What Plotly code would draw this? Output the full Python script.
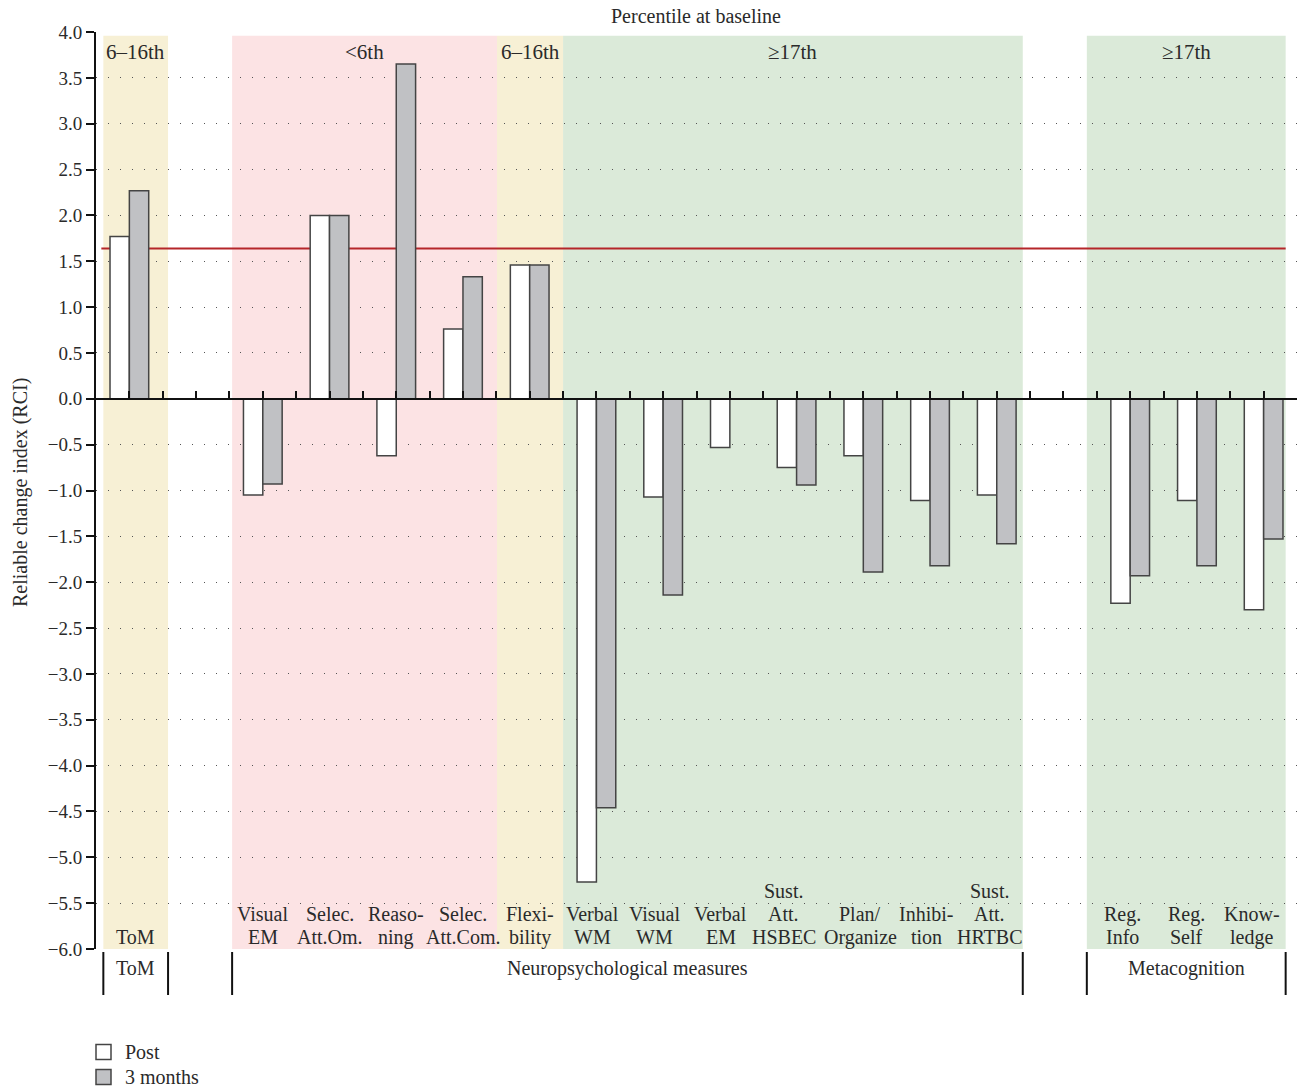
import plotly.graph_objects as go

# ---------------- data ----------------
categories = ["ToM", "", "Visual<br>EM", "Selec.<br>Att.Om.", "Reaso-<br>ning", "Selec.<br>Att.Com.",
              "Flexi-<br>bility", "Verbal<br>WM", "Visual<br>WM", "Verbal<br>EM", "Sust.<br>Att.<br>HSBEC",
              "Plan/<br>Organize", "Inhibi-<br>tion", "Sust.<br>Att.<br>HRTBC", " ",
              "Reg.<br>Info", "Reg.<br>Self", "Know-<br>ledge"]
post = [1.77, None, -1.05, 2.0, -0.62, 0.76, 1.46, -5.27, -1.07, -0.53, -0.75, -0.62, -1.11, -1.05,
        None, -2.23, -1.11, -2.30]
months3 = [2.27, None, -0.93, 2.0, 3.65, 1.33, 1.46, -4.46, -2.14, None, -0.94, -1.89, -1.82, -1.58,
           None, -1.93, -1.82, -1.53]
threshold = 1.64
percentile_bands = ["6–16th", "<6th", "6–16th", "≥17th", "≥17th"]
domain_groups = ["ToM", "", "Neuropsychological measures", "", "Metacognition"]
series_names = ["Post", "3 months"]

# ---------------- layout constants ----------------
W, H = 1299, 1089
ML, MR, MT, MB = 96, 2, 32, 140
PW = W - ML - MR
PH = H - MT - MB
N = len(categories)
FONT = "Liberation Serif"
TXT = "#2a2a2a"
SERIES_COLORS = ["#ffffff", "#c0c1c4"]
EDGE = "#444"

band_edges = [(-0.39, 0.58), (1.54, 5.51), (5.51, 6.5), (6.5, 13.39), (14.35, 17.33)]
band_colors = ["#f7f0d5", "#fce3e4", "#f7f0d5", "#dbead9", "#dbead9"]
group_edges = [(-0.39, 0.58), (0.58, 1.54), (1.54, 13.39), (13.39, 14.35), (14.35, 17.33)]
label_shift = [6, 0, 0, 0, 0, 0, 0, -4, -9, -9, -13, -3, -4, -7, 0, -8, -10, -12]
LINE_H = 23


def xp(u):
    return (u + 0.5) / N


def px_x(p):
    return (p - ML) / PW


def px_y(p):
    return (MT + PH - p) / PH


xs = list(range(N))
fig = go.Figure()
for name, vals, col in zip(series_names, [post, months3], SERIES_COLORS):
    fig.add_trace(go.Bar(x=xs, y=vals, name=name,
                         marker=dict(color=col, line=dict(color=EDGE, width=1.5))))

shapes = []
for (a, b), c in zip(band_edges, band_colors):
    shapes.append(dict(type="rect", xref="x", yref="y", x0=a, x1=b, y0=-6, y1=3.96,
                       fillcolor=c, line=dict(width=0), layer="below"))
shapes.append(dict(type="line", xref="x", yref="y", x0=-0.42, x1=17.33, y0=threshold, y1=threshold,
                   line=dict(color="#b5262a", width=2), layer="between"))
vlines = sorted(set([e for pair in group_edges for e in pair]))
for v in vlines:
    shapes.append(dict(type="line", xref="paper", yref="paper", x0=xp(v), x1=xp(v),
                       y0=-3 / PH, y1=-46 / PH, line=dict(color="#111", width=2)))

ann = []
ann.append(dict(text="Percentile at baseline", xref="paper", yref="paper", x=px_x(696),
                y=px_y(16), xanchor="center", yanchor="middle", showarrow=False,
                font=dict(size=20, color=TXT, family=FONT)))
ann.append(dict(text="Reliable change index (RCI)", xref="paper", yref="paper", x=px_x(20),
                y=px_y(492), xanchor="center", yanchor="middle", showarrow=False, textangle=-90,
                font=dict(size=20, color=TXT, family=FONT)))
for (a, b), t in zip(band_edges, percentile_bands):
    ann.append(dict(text=t, xref="x", yref="y", x=(a + b) / 2, y=3.78, showarrow=False,
                    xanchor="center", yanchor="middle", font=dict(size=21, color=TXT, family=FONT)))
for i, t in enumerate(categories):
    if t.strip() == "":
        continue
    lines = t.split("<br>")
    n = len(lines)
    for k, ln in enumerate(lines):
        ann.append(dict(text=ln, xref="x", yref="y", x=i, y=-6, xanchor="center", yanchor="middle",
                        showarrow=False, xshift=label_shift[i], yshift=12 + (n - 1 - k) * LINE_H,
                        font=dict(size=20, color=TXT, family=FONT)))
for (a, b), t in zip(group_edges, domain_groups):
    if not t:
        continue
    ann.append(dict(text=t, xref="paper", yref="paper", x=xp((a + b) / 2), y=-19 / PH,
                    xanchor="center", yanchor="middle", showarrow=False,
                    font=dict(size=20, color=TXT, family=FONT)))

# manual legend
for k, (name, col) in enumerate(zip(series_names, SERIES_COLORS)):
    cy = 1052 + 25 * k
    shapes.append(dict(type="rect", xref="paper", yref="paper", x0=px_x(96), x1=px_x(111),
                       y0=px_y(cy + 7.5), y1=px_y(cy - 7.5), fillcolor=col,
                       line=dict(color=EDGE, width=1.5)))
    ann.append(dict(text=name, xref="paper", yref="paper", x=px_x(123), y=px_y(cy),
                    xanchor="left", yanchor="middle", showarrow=False,
                    font=dict(size=20, color=TXT, family=FONT)))

fig.update_layout(
    width=W, height=H, autosize=False,
    margin=dict(l=ML, r=MR, t=MT, b=MB, autoexpand=False),
    paper_bgcolor="white", plot_bgcolor="white",
    barmode="group", bargap=0.42, bargroupgap=0,
    font=dict(family=FONT, size=19, color=TXT),
    shapes=shapes, annotations=ann,
    showlegend=False,
    xaxis=dict(range=[-0.5, N - 0.5], anchor="free", position=0.6, showline=True, linecolor="#111",
               linewidth=2, ticks="inside", ticklen=7, tickwidth=2, tickcolor="#111",
               tick0=-0.5, dtick=0.5, showticklabels=False, showgrid=False, zeroline=False),
    yaxis=dict(range=[-6, 4], tick0=-6, dtick=0.5, tickformat=".1f", showline=True, linecolor="#111",
               linewidth=2, ticks="outside", ticklen=8, tickwidth=2, tickcolor="#111",
               showgrid=True, gridcolor="#555", gridwidth=1.2, griddash="1px,11px", zeroline=False,
               tickfont=dict(size=19, color=TXT, family=FONT)),
)

fig.write_html("out.html", config={"displayModeBar": False},
               post_script="document.body.style.margin='0';document.body.style.overflow='hidden';")
